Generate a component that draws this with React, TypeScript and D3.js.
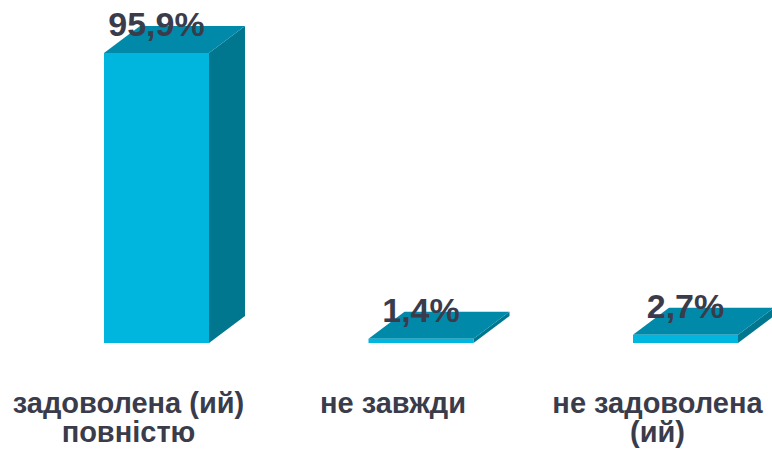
// @ts-nocheck
import * as d3 from "d3"
import * as React from "react"

const categories = ["задоволена (ий) повністю", "не завжди", "не задоволена (ий)"]
const labelLines = [["задоволена (ий)", "повністю"], ["не завжди"], ["не задоволена", "(ий)"]]
const values = [95.9, 1.4, 2.7]
const valueLabels = ["95,9%", "1,4%", "2,7%"]

const width = 772
const height = 449
const depthX = 36
const depthY = 27

const frontColor = "#00b5de"
const topColor = "#0089a8"
const sideColor = "#00768f"
const textColor = "#3a3c4b"

export default function App() {
  const x = d3.scaleBand()
    .domain(categories)
    .range([104, 738])
    .paddingInner(0.603)
    .paddingOuter(0)
  const y = d3.scaleLinear().domain([0, 95.9]).range([343, 53])
  const bw = x.bandwidth()

  return (
    <svg width={width} height={height} style={{ position: "absolute", left: 0, top: 0 }}
      fontFamily="'Liberation Sans', Arial, sans-serif">
      <rect width={width} height={height} fill="#fff" />
      {categories.map((c, i) => {
        const x0 = x(c)
        const x1 = x0 + bw
        const yt = y(values[i])
        const yb = y(0)
        const side = d3.path()
        side.moveTo(x1, yt); side.lineTo(x1 + depthX, yt - depthY)
        side.lineTo(x1 + depthX, yb - depthY); side.lineTo(x1, yb); side.closePath()
        const top = d3.path()
        top.moveTo(x0, yt); top.lineTo(x0 + depthX, yt - depthY)
        top.lineTo(x1 + depthX, yt - depthY); top.lineTo(x1, yt); top.closePath()
        return (
          <g key={c}>
            <path d={side.toString()} fill={sideColor} />
            <path d={top.toString()} fill={topColor} />
            <rect x={x0} y={yt} width={bw} height={yb - yt} fill={frontColor} />
            <text x={x0 + bw / 2} y={yt - 17} textAnchor="middle" fontSize={34}
              fontWeight="bold" fill={textColor}>{valueLabels[i]}</text>
            <text x={x0 + bw / 2 - 28} y={413} textAnchor="middle" fontSize={29}
              fontWeight="bold" fill={textColor}>
              {labelLines[i].map((l, j) => (
                <tspan key={j} x={x0 + bw / 2 - 28} dy={j === 0 ? 0 : 29}>{l}</tspan>
              ))}
            </text>
          </g>
        )
      })}
    </svg>
  )
}
